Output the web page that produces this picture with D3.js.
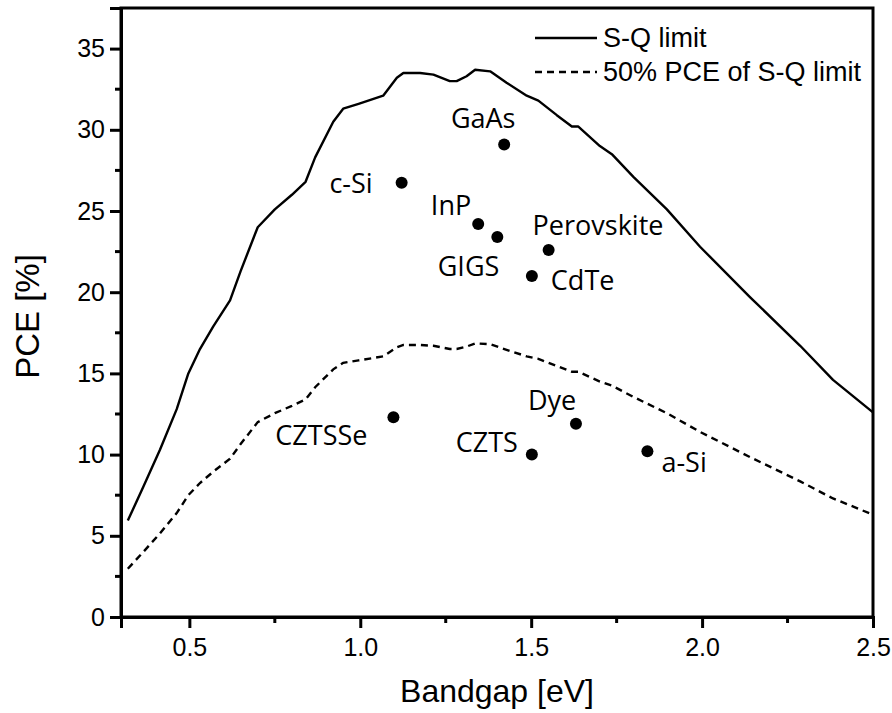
<!DOCTYPE html>
<html><head><meta charset="utf-8">
<script src="https://cdn.jsdelivr.net/npm/d3@7"></script>
<style>body{margin:0;background:#fff}</style>
</head><body>
<script>
// S-Q limit curve (bandgap eV, PCE %)
const sqBandgap = [0.32,0.365,0.414,0.463,0.497,0.531,0.57,0.619,0.65,0.70,0.75,0.80,0.84,0.868,0.921,0.95,0.995,1.067,1.107,1.126,1.175,1.214,1.262,1.282,1.311,1.336,1.38,1.428,1.487,1.521,1.575,1.619,1.638,1.701,1.736,1.799,1.897,1.994,2.14,2.287,2.383,2.5];
const sqPCE     = [5.94,8.0,10.3,12.8,15.0,16.5,17.9,19.5,21.3,24.0,25.1,26.0,26.8,28.3,30.5,31.3,31.6,32.1,33.2,33.5,33.5,33.4,33.0,33.0,33.3,33.7,33.6,32.9,32.1,31.8,30.9,30.2,30.2,29.0,28.5,27.1,25.1,22.8,19.7,16.7,14.6,12.6];
// 50% of S-Q limit curve
const halfPCE   = [2.97,4.0,5.15,6.4,7.5,8.25,8.95,9.75,10.65,12.0,12.55,13.0,13.4,14.15,15.25,15.65,15.8,16.05,16.6,16.75,16.75,16.7,16.5,16.5,16.65,16.85,16.8,16.45,16.05,15.9,15.45,15.1,15.1,14.5,14.25,13.55,12.55,11.4,9.85,8.35,7.3,6.3];
// Solar cell technologies
const cellNames    = ["GaAs","c-Si","InP","GIGS","Perovskite","CdTe","CZTSSe","CZTS","Dye","a-Si"];
const cellBandgap  = [1.421,1.121,1.345,1.401,1.551,1.502,1.097,1.502,1.631,1.840];
const cellPCE      = [29.1,26.74,24.2,23.4,22.6,21.0,12.3,10.0,11.9,10.2];
const xTickValues  = [0.5,1.0,1.5,2.0,2.5];
const yTickValues  = [0,5,10,15,20,25,30,35];
const legendLabels = ["S-Q limit","50% PCE of S-Q limit"];

const W = 892, H = 713;
const m = {left:121, right:873, top:8, bottom:617};
const svg = d3.select("body").append("svg").attr("width",W).attr("height",H);
const x = d3.scaleLinear().domain([0.3,2.5]).range([m.left,m.right]);
const y = d3.scaleLinear().domain([0,37.5]).range([m.bottom,m.top]);

const tickFont = "Liberation Sans, Arial, sans-serif";
const labelFont = "'Open Sans', Lato, sans-serif";

// curves
const line = d3.line().x(d=>x(d[0])).y(d=>y(d[1])).curve(d3.curveLinear);
svg.append("path").datum(sqBandgap.map((b,i)=>[b,sqPCE[i]]))
  .attr("d",line).attr("fill","none").attr("stroke","#000").attr("stroke-width",2.4).attr("stroke-linejoin","round");
svg.append("path").datum(sqBandgap.map((b,i)=>[b,halfPCE[i]]))
  .attr("d",line).attr("fill","none").attr("stroke","#000").attr("stroke-width",2.4).attr("stroke-dasharray","7,5");

// frame
svg.append("rect").attr("x",m.left).attr("y",m.top).attr("width",m.right-m.left).attr("height",m.bottom-m.top)
  .attr("fill","none").attr("stroke","#000").attr("stroke-width",3);

// axes
const xAxis = d3.axisBottom(x).tickValues(xTickValues).tickFormat(d3.format(".1f")).tickSize(11).tickPadding(10);
const gx = svg.append("g").attr("transform",`translate(0,${m.bottom})`).call(xAxis);
const yAxis = d3.axisLeft(y).tickValues(yTickValues).tickFormat(d3.format("d")).tickSize(11).tickPadding(5);
const gy = svg.append("g").attr("transform",`translate(${m.left},0)`).call(yAxis);
[gx,gy].forEach(g=>{
  g.select(".domain").attr("stroke-width",3);
  g.selectAll(".tick line").attr("stroke-width",3);
  g.selectAll(".tick text").attr("font-family",tickFont).attr("font-size",25).attr("fill","#000");
});
// minor ticks
svg.append("g").selectAll("line").data([0.75,1.25,1.75,2.25]).join("line")
  .attr("x1",d=>x(d)).attr("x2",d=>x(d)).attr("y1",m.bottom).attr("y2",m.bottom+6).attr("stroke","#000").attr("stroke-width",3);
svg.append("g").selectAll("line").data([2.5,7.5,12.5,17.5,22.5,27.5,32.5]).join("line")
  .attr("y1",d=>y(d)).attr("y2",d=>y(d)).attr("x1",m.left).attr("x2",m.left-6).attr("stroke","#000").attr("stroke-width",3);

// axis titles
svg.append("text").attr("x",(m.left+m.right)/2).attr("y",702).attr("text-anchor","middle")
  .attr("font-family",tickFont).attr("font-size",32).text("Bandgap [eV]");
svg.append("text").attr("transform",`translate(39,${(m.top+m.bottom)/2 + 4}) rotate(-90)`).attr("text-anchor","middle")
  .attr("font-family",tickFont).attr("font-size",33).text("PCE [%]");

// points
const cells = cellNames.map((n,i)=>({name:n,bg:cellBandgap[i],pce:cellPCE[i]}));
svg.append("g").selectAll("circle").data(cells).join("circle")
  .attr("cx",d=>x(d.bg)).attr("cy",d=>y(d.pce)).attr("r",6).attr("fill","#000");
const labelPos = {
  "GaAs":[-21,-16,"middle"], "c-Si":[-29,10,"end"], "InP":[-7,-9,"end"], "GIGS":[2,39,"end"],
  "Perovskite":[-16,-15,"start"], "CdTe":[19,14,"start"], "CZTSSe":[-26,28,"end"], "CZTS":[-14,-3,"end"],
  "Dye":[-48,-14,"start"], "a-Si":[14,21,"start"]
};
svg.append("g").selectAll("text").data(cells).join("text")
  .attr("x",d=>x(d.bg)+labelPos[d.name][0]).attr("y",d=>y(d.pce)+labelPos[d.name][1])
  .attr("text-anchor",d=>labelPos[d.name][2])
  .attr("font-family",labelFont).attr("font-size",27).attr("fill","#000").text(d=>d.name);

// legend
const lg = svg.append("g");
legendLabels.forEach((t,i)=>{
  const yy = 38 + i*34;
  lg.append("line").attr("x1",535).attr("x2",597).attr("y1",yy).attr("y2",yy)
    .attr("stroke","#000").attr("stroke-width",2.4).attr("stroke-dasharray",i? "7,5":null);
  lg.append("text").attr("x",603).attr("y",yy+9).attr("font-family",tickFont).attr("font-size",27).text(t);
});
</script>
</body></html>
